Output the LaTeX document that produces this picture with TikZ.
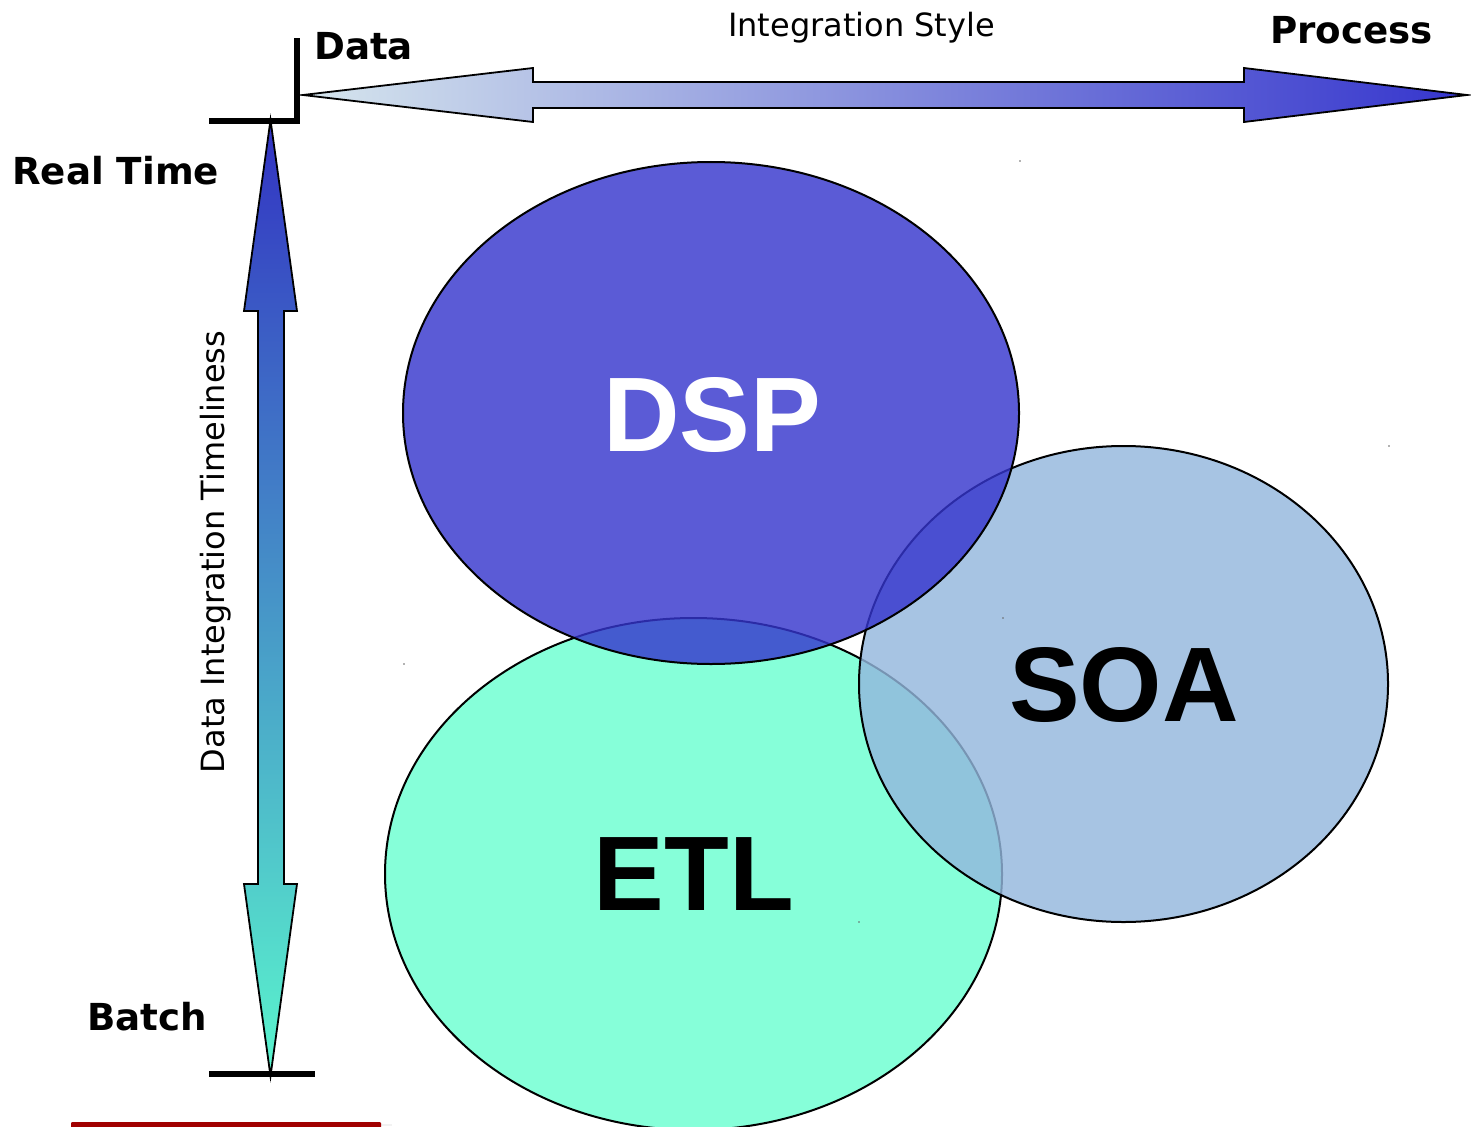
\documentclass[tikz,border=0pt]{standalone}
\usepackage{fontspec}
\setmainfont{DejaVu Sans}
\newfontfamily\bigsans{Liberation Sans}
\definecolor{dspc}{RGB}{53,53,205}
\definecolor{soac}{RGB}{147,183,221}
\definecolor{etlc}{RGB}{107,255,209}
\tikzset{
  blob/.style={draw=black,line width=2pt,fill opacity=0.81,draw opacity=1},
  bigtag/.style={font=\bigsans\bfseries\fontsize{106}{106}\selectfont,inner sep=0pt},
  axis/.style={font=\bfseries\fontsize{37.2}{37.2}\selectfont,inner sep=0pt,text=black},
  plain/.style={font=\fontsize{32}{32}\selectfont,inner sep=0pt},
  bar/.style={line width=5.7pt},
  speck/.style={fill=black!60,inner sep=0pt,minimum size=1.6pt,shape=circle},
  garrow/.style={draw=black,line width=1.8pt,line join=miter}
}
\begin{document}
\begin{tikzpicture}[x=1pt,y=-1pt]
\useasboundingbox (0,0) rectangle (1471,1126);
\fill[white] (0,0) rectangle (1471,1126);
% ellipses, back to front
\fill[blob,fill=etlc] (693.5,874) ellipse [x radius=308.5,y radius=256];
\fill[blob,fill=soac] (1123.5,684) ellipse [x radius=264.5,y radius=238];
\fill[blob,fill=dspc] (711,413) ellipse [x radius=308,y radius=251];
\node[bigtag,text=white] (dsp) at (712,415) {DSP};
\node[bigtag] (soa) at (1124,685) {SOA};
\node[bigtag] (etl) at (694,874) {ETL};
% axis bars
\coordinate (c1) at (209,121);
\coordinate (c2) at (297.3,121);
\coordinate (c3) at (297.3,38);
\draw[bar,line join=miter] (c1) -- (c2) -- (c3);
\coordinate (b1) at (209,1074);
\coordinate (b2) at (315,1074);
\draw[bar] (b1) -- (b2);
% horizontal arrow
\path[garrow,left color={rgb,255:red,214;green,230;blue,237},right color=dspc]
  (303,95) -- (533,68) -- (533,82) -- (1244,82) -- (1244,68) -- (1467,95) -- (1244,122) -- (1244,108) -- (533,108) -- (533,122) -- cycle;
% vertical arrow
\path[garrow,top color=dspc!95!black,bottom color={rgb,255:red,90;green,245;blue,205}]
  (270.5,120) -- (297,311) -- (284,311) -- (284,884) -- (297,884) -- (270.5,1076) -- (244,884) -- (258,884) -- (258,311) -- (244,311) -- cycle;
% labels
\node[axis,anchor=base west] (data) at (314,60) {Data};
\node[axis,anchor=base west] (process) at (1270,44) {Process};
\node[axis,anchor=base west] (realtime) at (12,185) {Real Time};
\node[axis,anchor=base west] (batch) at (87,1030) {Batch};
\node[plain,anchor=base] (style) at (861.5,37) {Integration Style};
\node[plain,rotate=90,anchor=base] (time) at (224,552) {Data Integration Timeliness};
% red bar at the lower edge
\fill[black!5] (74,1124) rectangle (392,1126);
\fill[red!63!black,rounded corners=1pt] (71,1122) rectangle (381,1130);
% specks
\node[speck] (s1) at (1020,161) {};
\node[speck] (s2) at (1389,446) {};
\node[speck] (s3) at (1003,618) {};
\node[speck] (s4) at (404,664) {};
\node[speck] (s5) at (859,922) {};
\end{tikzpicture}
\end{document}
